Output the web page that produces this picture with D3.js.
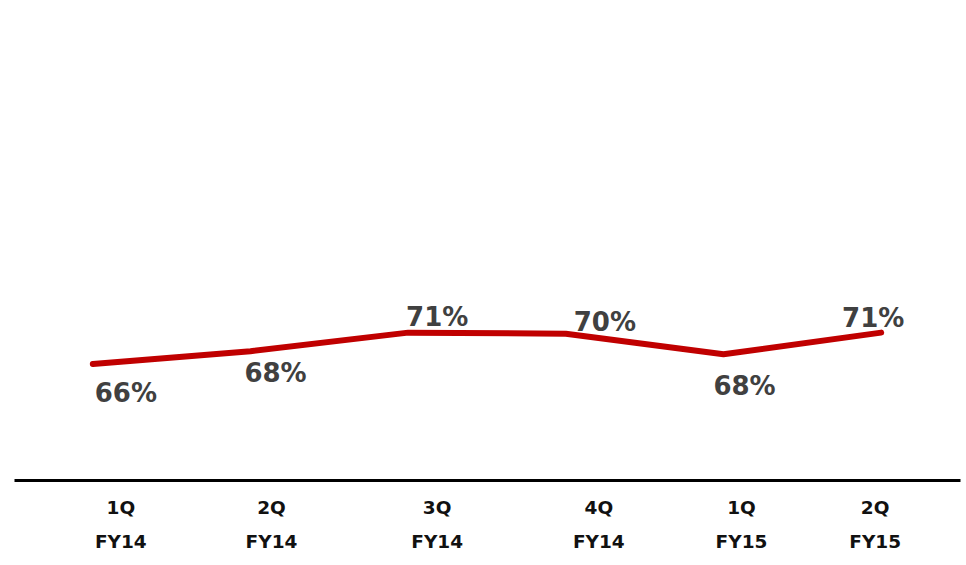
<!DOCTYPE html>
<html>
<head>
<meta charset="utf-8">
<script src="https://cdn.jsdelivr.net/npm/d3@7"></script>
<style>
  html, body { margin: 0; padding: 0; background: #fff; }
  svg { display: block; }
</style>
</head>
<body>
<svg id="chart" width="966" height="565"></svg>
<script>
// ---- data ----
const quarters = ["1Q", "2Q", "3Q", "4Q", "1Q", "2Q"];
const fiscalYears = ["FY14", "FY14", "FY14", "FY14", "FY15", "FY15"];
const ratioValues = [66.4, 68.1, 70.55, 70.4, 67.7, 70.55];

// ---- label layout (offsets from the point / tick) ----
const valueLabelNudge = [[33, 38], [25, 31], [29, -7], [39, -3], [21, 41], [-8, -6]];
const tickLabelNudge = [28, 21, 29, 33, 18, -6];

const svg = d3.select("#chart");
const ids = d3.range(quarters.length);

const x = d3.scaleBand().domain(ids).range([14, 960]);
const y = d3.scaleLinear().domain([60, 75]).range([412.4, 299]);
const cx = i => x(i) + x.bandwidth() / 2;

// axis baseline
const axis = d3.axisBottom(x).tickSize(0).tickFormat("");
const gAxis = svg.append("g").attr("transform", "translate(0,480)").call(axis);
gAxis.select(".domain").attr("stroke", "#000").attr("stroke-width", 3);

// category labels
const ticks = svg.append("g")
  .attr("font-family", "DejaVu Sans, Verdana, sans-serif")
  .attr("font-weight", "bold")
  .attr("font-size", 18.5)
  .attr("fill", "#111")
  .attr("text-anchor", "middle");
ticks.selectAll("text.q").data(ids).join("text")
  .attr("class", "q")
  .attr("x", i => cx(i) + tickLabelNudge[i])
  .attr("y", 514)
  .text(i => quarters[i]);
ticks.selectAll("text.fy").data(ids).join("text")
  .attr("class", "fy")
  .attr("x", i => cx(i) + tickLabelNudge[i])
  .attr("y", 548)
  .text(i => fiscalYears[i]);

// line
const line = d3.line().x(i => cx(i)).y(i => y(ratioValues[i]));
svg.append("path")
  .datum(ids)
  .attr("d", line)
  .attr("fill", "none")
  .attr("stroke", "#C00000")
  .attr("stroke-width", 6)
  .attr("stroke-linecap", "round")
  .attr("stroke-linejoin", "round");

// value labels
svg.append("g")
  .attr("font-family", "DejaVu Sans, Verdana, sans-serif")
  .attr("font-weight", "bold")
  .attr("font-size", 26)
  .attr("fill", "#404040")
  .attr("text-anchor", "middle")
  .selectAll("text").data(ids).join("text")
  .attr("x", i => cx(i) + valueLabelNudge[i][0])
  .attr("y", i => y(ratioValues[i]) + valueLabelNudge[i][1])
  .text(i => Math.round(ratioValues[i]) + "%");
</script>
</body>
</html>
